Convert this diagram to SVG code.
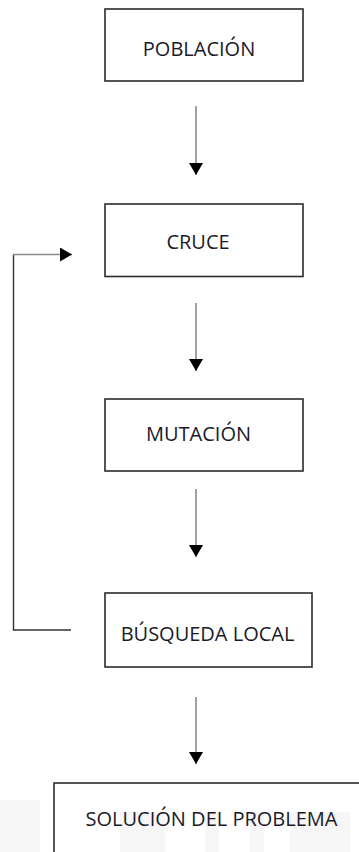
<svg xmlns="http://www.w3.org/2000/svg" width="359" height="852" viewBox="0 0 359 852">
<defs>
<style>
.box{fill:none;stroke:#2b2b2b;stroke-width:1.6}
.lbl{font-family:"Open Sans","Noto Sans","DejaVu Sans",sans-serif;font-size:20px;fill:#1a1a2a;text-anchor:middle}
.ln{fill:none;stroke:#8a8a8a;stroke-width:1.6}
.fb{fill:none;stroke:#333;stroke-width:1.4}
</style>
<marker id="ah" viewBox="0 0 12 14" refX="12" refY="7" markerWidth="12" markerHeight="14" markerUnits="userSpaceOnUse" orient="auto">
<path d="M0,0 L12,7 L0,14 Z" fill="#000"/>
</marker>
</defs>
<rect width="359" height="852" fill="#fff"/>
<g id="watermark" fill="#f6f6f6">
<rect x="0" y="800" width="40" height="52"/>
<rect x="120" y="812" width="45" height="40"/>
<rect x="205" y="812" width="14" height="40"/>
<rect x="250" y="812" width="14" height="40"/>
<rect x="290" y="812" width="60" height="40"/>
</g>
<g id="n1"><rect class="box" x="105" y="9" width="198" height="72"/><text class="lbl" x="199" y="56">POBLACIÓN</text></g>
<g id="n2"><rect class="box" x="105" y="204" width="198" height="72.5"/><text class="lbl" x="198" y="249">CRUCE</text></g>
<g id="n3"><rect class="box" x="105" y="399" width="198" height="72"/><text class="lbl" x="198.5" y="441">MUTACIÓN</text></g>
<g id="n4"><rect class="box" x="105" y="593" width="207" height="74"/><text class="lbl" x="207.5" y="641">BÚSQUEDA LOCAL</text></g>
<g id="n5"><rect class="box" x="54" y="783" width="320" height="80"/><text class="lbl" x="211.5" y="826">SOLUCIÓN DEL PROBLEMA</text></g>
<g id="connectors">
<line class="ln" x1="196" y1="106" x2="196" y2="175" marker-end="url(#ah)"/>
<line class="ln" x1="196" y1="303" x2="196" y2="371" marker-end="url(#ah)"/>
<line class="ln" x1="196" y1="489" x2="196" y2="557" marker-end="url(#ah)"/>
<line class="ln" x1="196" y1="697" x2="196" y2="764" marker-end="url(#ah)"/>
<polyline class="fb" points="71,630 13.5,630 13.5,254.5"/>
<line class="ln" x1="13" y1="254.5" x2="72" y2="254.5" marker-end="url(#ah)"/>
</g>
</svg>
